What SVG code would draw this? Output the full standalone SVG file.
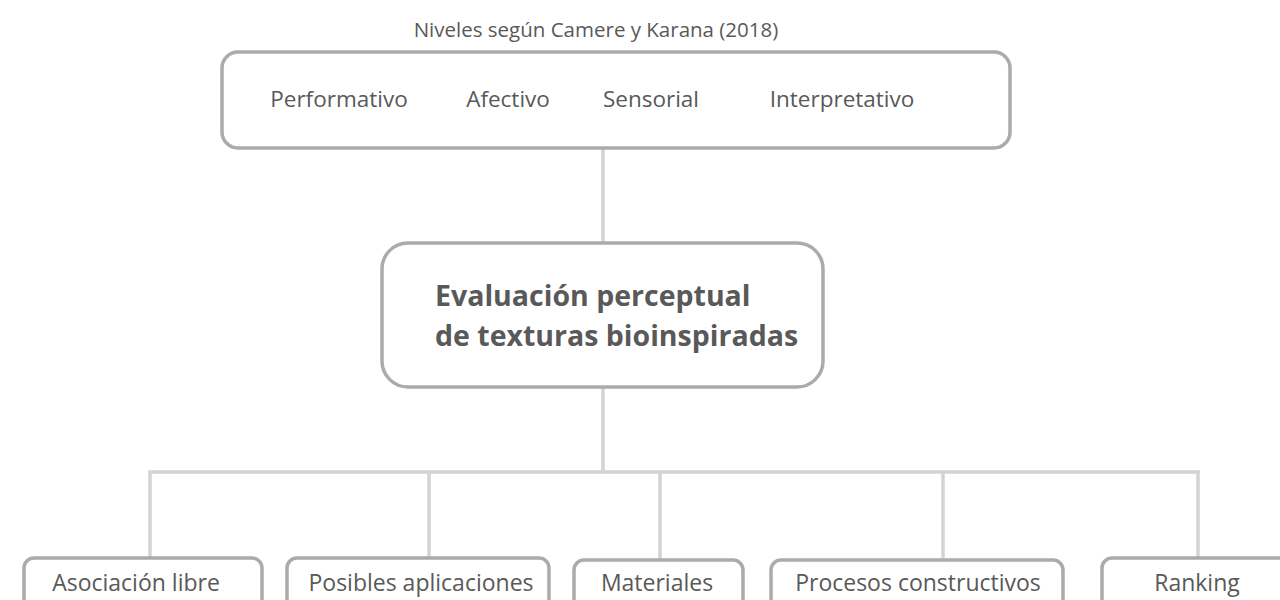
<svg xmlns="http://www.w3.org/2000/svg" width="1280" height="600" viewBox="0 0 1280 600">
<style>
.box{fill:#ffffff;stroke:#ababab;stroke-width:3.5}
.conn{stroke:#d3d3d3;stroke-width:3.5;fill:none}
.t{font-family:"Open Sans","Liberation Sans",sans-serif;fill:#595959;text-anchor:middle}
.lvl{font-size:22.5px}
.bot{font-size:23px}
.main{font-size:28.5px;font-weight:bold;text-anchor:start}
</style>
<rect width="1280" height="600" fill="#ffffff"/>
<text class="t" x="596" y="37" font-size="20.5">Niveles según Camere y Karana (2018)</text>
<g id="connectors">
<line class="conn" x1="603" y1="149" x2="603" y2="243"/>
<line class="conn" x1="603" y1="387" x2="603" y2="472"/>
<polyline class="conn" points="150,558 150,472 1198,472 1198,558"/>
<line class="conn" x1="429" y1="472" x2="429" y2="558"/>
<line class="conn" x1="660" y1="472" x2="660" y2="560"/>
<line class="conn" x1="943" y1="472" x2="943" y2="558"/>
</g>
<g id="niveles">
<rect class="box" x="222" y="52" width="788" height="96" rx="16"/>
<text class="t lvl" x="339" y="107">Performativo</text>
<text class="t lvl" x="508" y="107">Afectivo</text>
<text class="t lvl" x="651" y="107">Sensorial</text>
<text class="t lvl" x="842" y="107">Interpretativo</text>
</g>
<g id="evaluacion">
<rect class="box" x="382" y="243" width="441" height="144" rx="26"/>
<text class="t main" x="435" y="306">Evaluación perceptual</text>
<text class="t main" x="435" y="346">de texturas bioinspiradas</text>
</g>
<g id="asociacion">
<rect class="box" x="24" y="558" width="238" height="60" rx="10"/>
<text class="t bot" x="136" y="591">Asociación libre</text>
</g>
<g id="aplicaciones">
<rect class="box" x="287" y="558" width="262" height="60" rx="10"/>
<text class="t bot" x="421" y="591">Posibles aplicaciones</text>
</g>
<g id="materiales">
<rect class="box" x="574" y="560" width="169" height="60" rx="10"/>
<text class="t bot" x="657" y="591">Materiales</text>
</g>
<g id="procesos">
<rect class="box" x="771" y="560" width="292" height="60" rx="10"/>
<text class="t bot" x="918" y="591">Procesos constructivos</text>
</g>
<g id="ranking">
<rect class="box" x="1102" y="558" width="200" height="60" rx="10"/>
<text class="t bot" x="1197" y="591">Ranking</text>
</g>
</svg>
